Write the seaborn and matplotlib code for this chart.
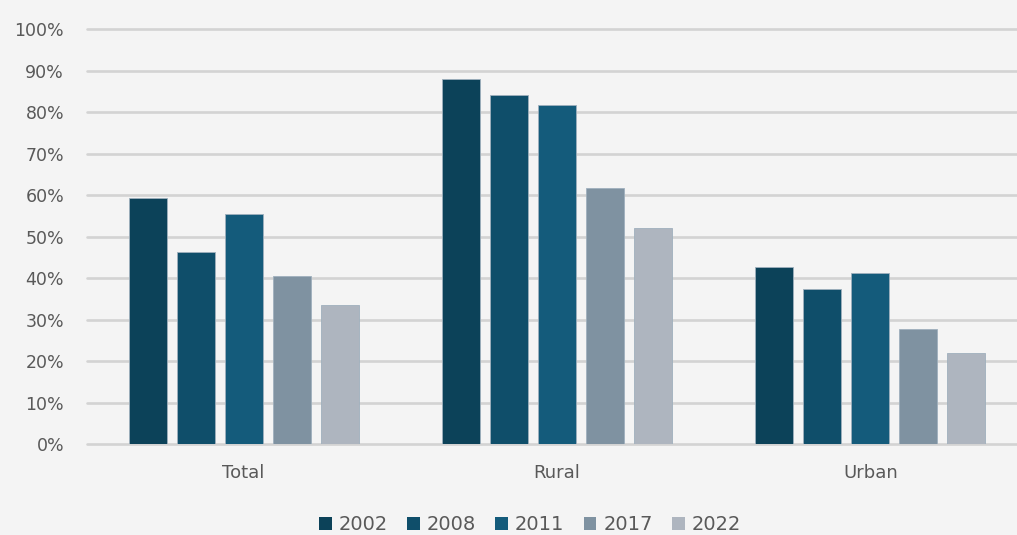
import matplotlib
matplotlib.use("Agg")
import matplotlib.pyplot as plt
from matplotlib.patches import Patch
from matplotlib.ticker import PercentFormatter
import pandas as pd
import seaborn as sns

# Share of population by area and survey year
areas = ["Total", "Rural", "Urban"]
years = ["2002", "2008", "2011", "2017", "2022"]
share_2002 = [59.3, 88.1, 42.6]
share_2008 = [46.4, 84.3, 37.5]
share_2011 = [55.5, 81.8, 41.3]
share_2017 = [40.6, 61.8, 27.8]
share_2022 = [33.5, 52.2, 22.0]
yticks = [0, 10, 20, 30, 40, 50, 60, 70, 80, 90, 100]

colors = ["#0c4259", "#0f4e6a", "#145b7b", "#7f92a1", "#aeb5bf"]
bg = "#f4f4f4"
text_col = "#595959"

rows = []
for year, vals in zip(years, [share_2002, share_2008, share_2011, share_2017, share_2022]):
    for area, v in zip(areas, vals):
        rows.append({"area": area, "year": year, "share": v})
df = pd.DataFrame(rows)

sns.set_theme(style="white")
plt.rcParams["font.family"] = ["DejaVu Sans"]

fig = plt.figure(figsize=(10.17, 5.35), dpi=100, facecolor=bg)
ax = fig.add_axes([87 / 1017, 1 - 444 / 535, (1027 - 87) / 1017, (444 - 29.5) / 535])
ax.set_facecolor(bg)

sns.barplot(
    data=df, x="area", y="share", hue="year", order=areas, hue_order=years,
    palette=colors, width=0.767, gap=0.21, ax=ax, legend=False,
    edgecolor="#9fb0bd", linewidth=0.6, saturation=1,
)

ax.set_xlim(-0.5, 2.5)
ax.set_ylim(0, 100)
ax.set_yticks(yticks)
ax.yaxis.set_major_formatter(PercentFormatter(decimals=0))
ax.grid(axis="y", color="#d3d3d3", linewidth=1.9, zorder=0)
ax.set_axisbelow(True)
for gl in ax.get_ygridlines():
    gl.set_clip_on(False)
for s in ax.spines.values():
    s.set_visible(False)
ax.tick_params(axis="y", length=0, pad=16.5, labelsize=12.5, labelcolor=text_col)
ax.tick_params(axis="x", length=0, pad=14.5, labelsize=13, labelcolor=text_col)
ax.set_xlabel("")
ax.set_ylabel("")

handles = [Patch(facecolor=c, edgecolor="none") for c in colors]
fig.legend(
    handles, years, loc="center", bbox_to_anchor=(530 / 1017, 1 - 524.5 / 535),
    ncol=5, frameon=False, fontsize=14, labelcolor=text_col,
    handlelength=0.65, handleheight=0.65, handletextpad=0.35, columnspacing=1.0,
)

fig.savefig("out.png", dpi=100, facecolor=bg)
